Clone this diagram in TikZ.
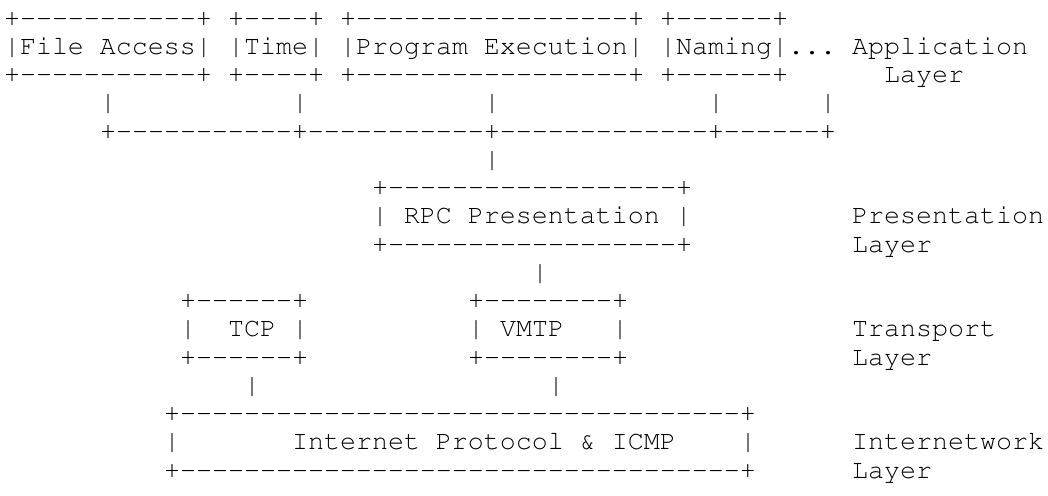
\documentclass[tikz,border=0pt]{standalone}
\usepackage[T1]{fontenc}
\usepackage{courier}
\tikzset{ascii/.style={anchor=base west, inner sep=0pt, outer sep=0pt,
    font=\ttfamily\fontsize{13.333pt}{14.125pt}\selectfont}}
% a run of n hyphens, kept apart so that they form no dash ligature
\newcommand\dashrun[1]{\foreach \k in {1,...,#1}{-{}}}

\begin{document}
\begin{tikzpicture}[x=8pt, y=-14.125pt]
  \useasboundingbox (-0.25,-0.9204) rectangle (65.25,16.602);

  % application layer
  \node[ascii] (fatop) at (0,0) {+\dashrun{11}+};
  \node[ascii] (timetop) at (14,0) {+\dashrun{4}+};
  \node[ascii] (progtop) at (21,0) {+\dashrun{17}+};
  \node[ascii] (namingtop) at (41,0) {+\dashrun{6}+};

  \node[ascii] (fileaccess) at (0,1) {|File Access|};
  \node[ascii] (time) at (14,1) {|Time|};
  \node[ascii] (progexec) at (21,1) {|Program Execution|};
  \node[ascii] (naming) at (41,1) {|Naming|};
  \node[ascii] (more) at (49,1) {...};
  \node[ascii] (application) at (53,1) {Application};

  \node[ascii] (fabot) at (0,2) {+\dashrun{11}+};
  \node[ascii] (timebot) at (14,2) {+\dashrun{4}+};
  \node[ascii] (progbot) at (21,2) {+\dashrun{17}+};
  \node[ascii] (namingbot) at (41,2) {+\dashrun{6}+};
  \node[ascii] (applayer) at (55,2) {Layer};

  \node[ascii] (faup) at (6,3) {|};
  \node[ascii] (timeup) at (18,3) {|};
  \node[ascii] (progup) at (30,3) {|};
  \node[ascii] (namingup) at (44,3) {|};
  \node[ascii] (moreup) at (51,3) {|};
  \node[ascii] (bus) at (6,4) {+\dashrun{11}+\dashrun{11}+\dashrun{13}+\dashrun{6}+};
  \node[ascii] (busdown) at (30,5) {|};

  % presentation layer
  \node[ascii] (rpctop) at (23,6) {+\dashrun{18}+};
  \node[ascii] (rpc) at (23,7) {| RPC Presentation |};
  \node[ascii] (rpcbot) at (23,8) {+\dashrun{18}+};
  \node[ascii] (presentation) at (53,7) {Presentation};
  \node[ascii] (preslayer) at (53,8) {Layer};
  \node[ascii] (rpcdown) at (33,9) {|};

  % transport layer
  \node[ascii] (tcptop) at (11,10) {+\dashrun{6}+};
  \node[ascii] (tcpleft) at (11,11) {|};
  \node[ascii] (tcp) at (14,11) {TCP};
  \node[ascii] (tcpright) at (18,11) {|};
  \node[ascii] (tcpbot) at (11,12) {+\dashrun{6}+};

  \node[ascii] (vmtptop) at (29,10) {+\dashrun{8}+};
  \node[ascii] (vmtpleft) at (29,11) {|};
  \node[ascii] (vmtp) at (31,11) {VMTP};
  \node[ascii] (vmtpright) at (38,11) {|};
  \node[ascii] (vmtpbot) at (29,12) {+\dashrun{8}+};

  \node[ascii] (transport) at (53,11) {Transport};
  \node[ascii] (translayer) at (53,12) {Layer};

  \node[ascii] (tcpdown) at (15,13) {|};
  \node[ascii] (vmtpdown) at (34,13) {|};

  % internetwork layer
  \node[ascii] (iptop) at (10,14) {+\dashrun{35}+};
  \node[ascii] (ipleft) at (10,15) {|};
  \node[ascii] (ip) at (18,15) {Internet Protocol \& ICMP};
  \node[ascii] (ipright) at (46,15) {|};
  \node[ascii] (ipbot) at (10,16) {+\dashrun{35}+};
  \node[ascii] (internetwork) at (53,15) {Internetwork};
  \node[ascii] (iplayer) at (53,16) {Layer};
\end{tikzpicture}
\end{document}
